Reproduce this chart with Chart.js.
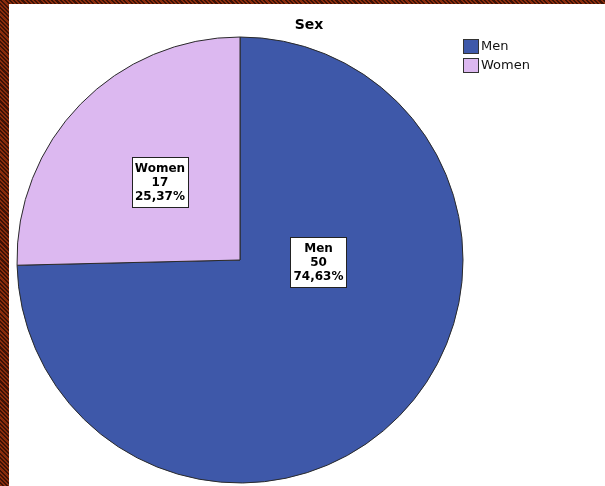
<!DOCTYPE html>
<html>
<head>
<meta charset="utf-8">
<script src="https://cdn.jsdelivr.net/npm/chart.js@4/dist/chart.umd.min.js"></script>
<style>
  html, body { margin: 0; padding: 0; }
  body {
    width: 605px; height: 486px; overflow: hidden; position: relative;
    background: repeating-linear-gradient(45deg, #8a2c0c 0px, #8a2c0c 1.5px, #3c1206 1.5px, #3c1206 3px);
  }
  #panel { position: absolute; left: 9px; top: 4px; width: 596px; height: 482px; background: #fff; }
  canvas { display: block; }
</style>
</head>
<body>
<div id="panel"><canvas id="chart" width="596" height="482"></canvas></div>
<script>
const chartTitle = 'Sex';
const categories = ['Men', 'Women'];
const counts = [50, 17];
const sliceColors = ['#3e58a9', '#dcb8f0'];

const total = counts.reduce((a, b) => a + b, 0);
const fmtPct = v => (v / total * 100).toFixed(2).replace('.', ',') + '%';

// Boxed in-slice labels: name, count, percentage
const sliceLabels = {
  id: 'sliceLabels',
  afterDatasetsDraw(chart, args, opts) {
    const ctx = chart.ctx;
    const meta = chart.getDatasetMeta(0);
    meta.data.forEach((arc, i) => {
      const r = arc.outerRadius;
      const off = opts.offsets[i];
      const x = arc.x + off[0] * r;
      const y = arc.y + off[1] * r;
      const lines = [categories[i], String(counts[i]), fmtPct(counts[i])];
      ctx.save();
      ctx.font = 'bold 12px "DejaVu Sans", sans-serif';
      const w = Math.round(Math.max(...lines.map(s => ctx.measureText(s).width)) + 6);
      const lh = 14;
      const h = lines.length * lh + 8;
      const bx = Math.round(x - w / 2) + 0.5, by = Math.round(y - h / 2) + 0.5;
      ctx.fillStyle = '#fff';
      ctx.fillRect(bx, by, w, h);
      ctx.strokeStyle = '#222';
      ctx.lineWidth = 1;
      ctx.strokeRect(bx, by, w, h);
      ctx.fillStyle = '#000';
      ctx.textAlign = 'center';
      ctx.textBaseline = 'middle';
      lines.forEach((s, k) => ctx.fillText(s, x, by + 4 + lh * k + lh / 2 + 0.5));
      ctx.restore();
    });
  }
};

// Title and legend drawn in fixed places around the pie
const decorations = {
  id: 'decorations',
  afterDraw(chart) {
    const ctx = chart.ctx;
    ctx.save();
    ctx.fillStyle = '#000';
    ctx.font = 'bold 14px "DejaVu Sans", sans-serif';
    ctx.textAlign = 'center';
    ctx.textBaseline = 'middle';
    ctx.fillText(chartTitle, chart.width / 2 + 2, 21);
    ctx.font = '13px "DejaVu Sans", sans-serif';
    ctx.textAlign = 'left';
    categories.forEach((c, i) => {
      const y = 35 + i * 19;
      ctx.fillStyle = sliceColors[i];
      ctx.fillRect(454.5, y + 0.5, 15, 14);
      ctx.strokeStyle = '#333';
      ctx.lineWidth = 1;
      ctx.strokeRect(454.5, y + 0.5, 15, 14);
      ctx.fillStyle = '#111';
      ctx.fillText(c, 472, y + 8);
    });
    ctx.restore();
  }
};

new Chart(document.getElementById('chart'), {
  type: 'pie',
  data: {
    labels: categories,
    datasets: [{
      data: counts,
      backgroundColor: sliceColors,
      borderColor: '#2a2a2a',
      borderWidth: 1
    }]
  },
  options: {
    responsive: false,
    animation: false,
    devicePixelRatio: 1,
    radius: 223,
    layout: { padding: { left: 8, top: 33, right: 142, bottom: 3 } },
    plugins: {
      legend: { display: false },
      title: { display: false },
      tooltip: { enabled: false },
      sliceLabels: { offsets: [[0.352, 0.009], [-0.359, -0.350]] }
    }
  },
  plugins: [sliceLabels, decorations]
});
</script>
</body>
</html>
